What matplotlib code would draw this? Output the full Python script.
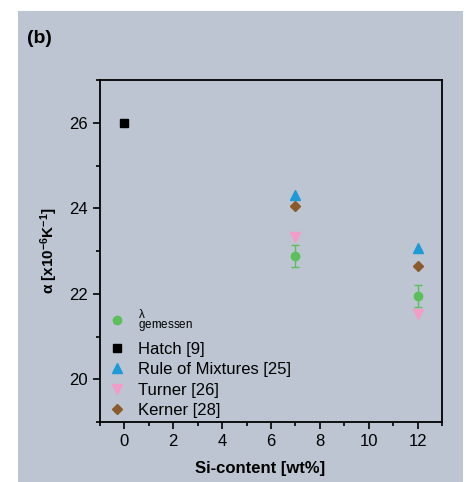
import matplotlib
matplotlib.use('Agg')
import matplotlib.pyplot as plt
from matplotlib.patches import Rectangle
from matplotlib.lines import Line2D
from matplotlib.ticker import MultipleLocator

plt.rcParams['font.family'] = ['Liberation Sans', 'DejaVu Sans']
plt.rcParams['mathtext.fontset'] = 'custom'
plt.rcParams['mathtext.rm'] = 'Liberation Sans'
plt.rcParams['mathtext.it'] = 'Liberation Sans'
plt.rcParams['mathtext.bf'] = 'Liberation Sans:bold'

# data
si_meas = [7, 12]
alpha_meas = [22.88, 21.95]
alpha_err = [0.25, 0.25]
si_hatch = [0]
alpha_hatch = [26.0]
si_model = [7, 12]
alpha_rom = [24.32, 23.08]
alpha_turner = [23.33, 21.52]
alpha_kerner = [24.05, 22.64]

bg = '#bcc5d1'
green = '#5cbf5a'
blue = '#1e9ad8'
pink = '#f49cc8'
brown = '#8b5a2b'

fig = plt.figure(figsize=(4.66, 4.82), dpi=100)
fig.patch.set_facecolor('white')
fig.patches.append(Rectangle((18/466, 0), 445/466, 471/482, transform=fig.transFigure,
                             facecolor=bg, edgecolor='none', zorder=-10))

ax = fig.add_axes([100/466, 1 - 422/482, 342/466, 342/482])
ax.set_facecolor('none')

ax.errorbar(si_meas, alpha_meas, yerr=alpha_err, fmt='o', color=green, ms=6,
            ecolor=green, elinewidth=1, capsize=3, capthick=1)
h_meas = Line2D([], [], ls='none', marker='o', color=green, ms=6)
h_hatch, = ax.plot(si_hatch, alpha_hatch, 's', color='black', ms=5.5)
h_rom, = ax.plot(si_model, alpha_rom, '^', color=blue, ms=7)
h_turner, = ax.plot(si_model, alpha_turner, 'v', color=pink, ms=7)
h_kerner, = ax.plot(si_model, alpha_kerner, 'D', color=brown, ms=5.5)

ax.set_xlim(-1, 13)
ax.set_ylim(19, 27)
ax.xaxis.set_major_locator(MultipleLocator(2))
ax.xaxis.set_minor_locator(MultipleLocator(1))
ax.yaxis.set_major_locator(MultipleLocator(2))
ax.yaxis.set_minor_locator(MultipleLocator(1))
ax.tick_params(which='major', direction='out', length=5, width=1.2, labelsize=12, pad=4)
ax.tick_params(which='minor', direction='out', length=3, width=1.2)
for s in ax.spines.values():
    s.set_linewidth(1.3)

ax.set_xlabel('Si-content [wt%]', fontsize=12, fontweight='bold')
ax.xaxis.set_label_coords((260 - 100) / 342, -(461 - 422) / 342)
ax.set_ylabel(r'α [x10$^{\mathbf{-6}}$K$^{\mathbf{-1}}$]', fontsize=11, fontweight='bold', labelpad=6)

ax.legend([h_meas, h_hatch, h_rom, h_turner, h_kerner],
          [r'$^{\lambda}_{\mathrm{gemessen}}$', 'Hatch [9]', 'Rule of Mixtures [25]',
           'Turner [26]', 'Kerner [28]'],
          loc='lower left', bbox_to_anchor=(-0.005, -0.018), frameon=False,
          fontsize=12, handlelength=1.0, handletextpad=0.8, labelspacing=0.33,
          borderaxespad=0.2, numpoints=1)

fig.text(27/466, 1 - 43/482, '(b)', fontsize=14, fontweight='bold')

fig.savefig('out.png', dpi=100, facecolor='white')
